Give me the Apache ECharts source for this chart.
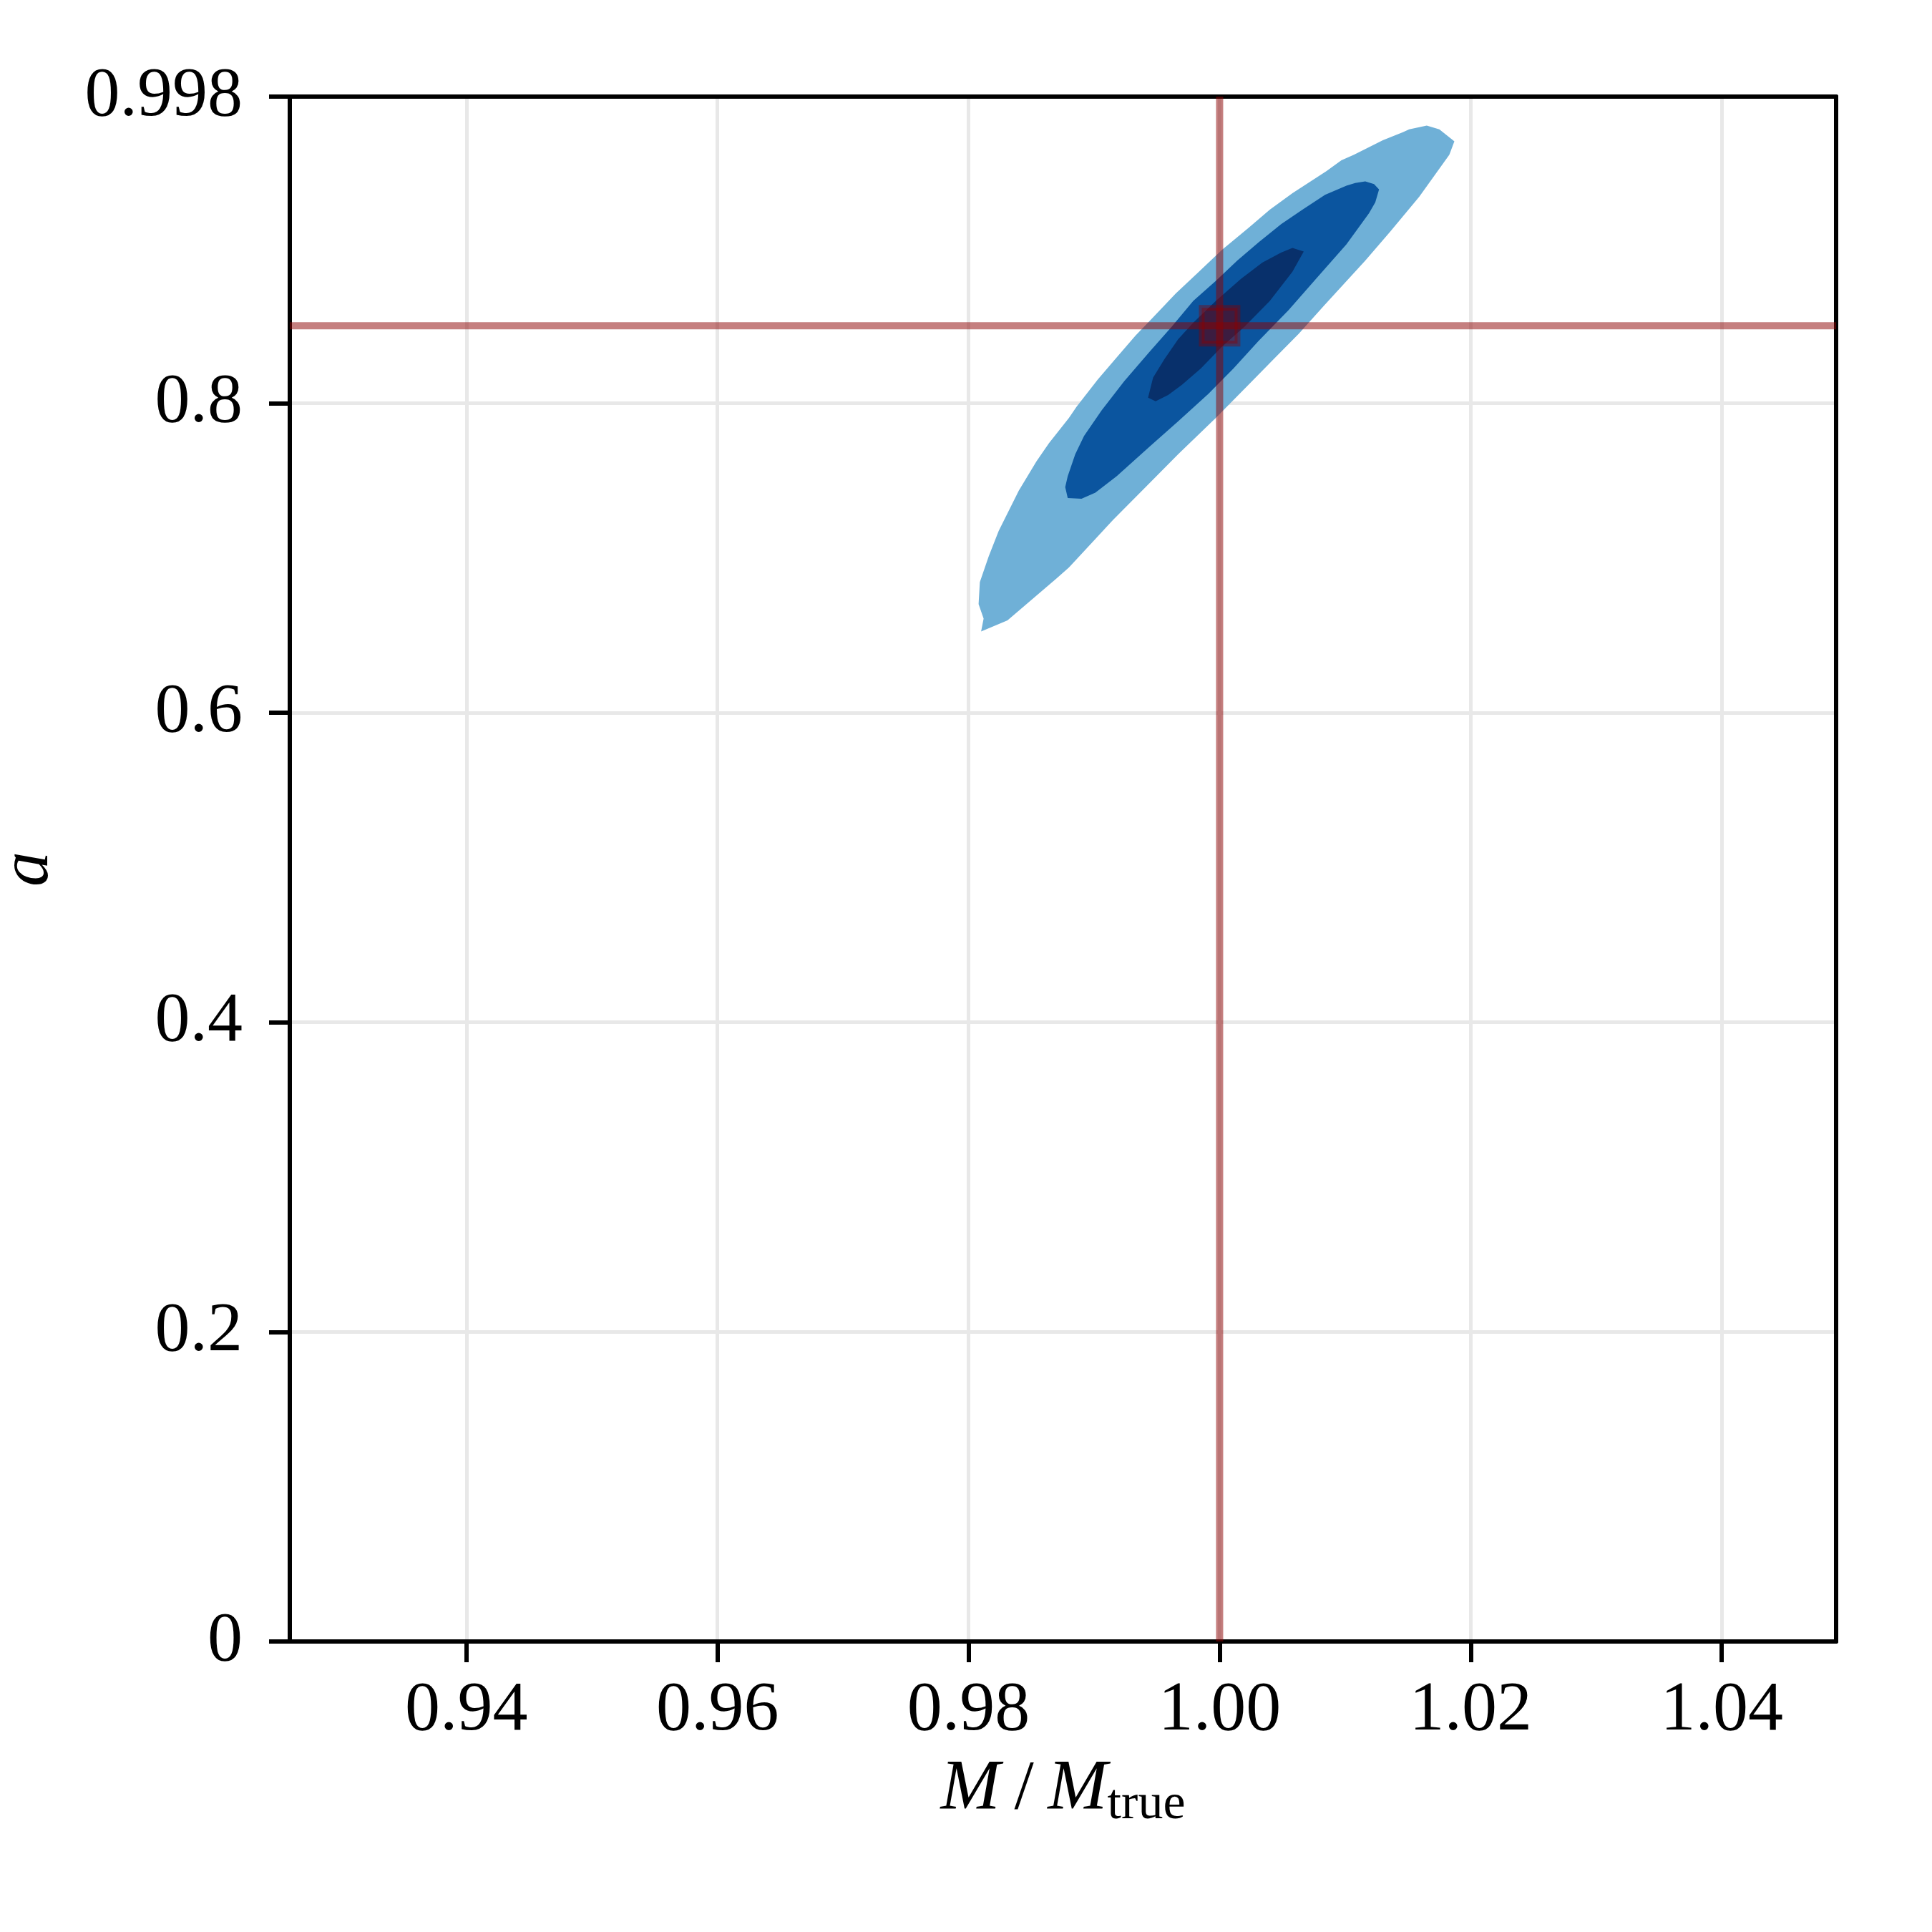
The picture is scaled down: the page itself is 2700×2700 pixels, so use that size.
<!DOCTYPE html>
<html>
<head>
<meta charset="utf-8">
<script src="https://cdn.jsdelivr.net/npm/echarts@6/dist/echarts.min.js"></script>
<style>
  html, body { margin: 0; padding: 0; background: #fff; }
  #chart { width: 2700px; height: 2700px; }
</style>
</head>
<body>
<div id="chart"></div>
<script>
// axis ranges and ticks
const xRange = [0.92593, 1.04911];
const yRange = [0, 0.998];
const xTicks = [0.94, 0.96, 0.98, 1.00, 1.02, 1.04];
const yTicks = [0, 0.2, 0.4, 0.6, 0.8, 0.998];
const yTickLabels = ['0', '0.2', '0.4', '0.6', '0.8', '0.998'];

// true values (cross lines + marker)
const trueM = 1.0;
const trueA = 0.85;

// contour outlines, [M/Mtrue, a]
const contourOuter = [
  [1.0187, 0.9691], [1.0175, 0.9769], [1.0165, 0.9793], [1.0151, 0.9769], [1.0146, 0.9750],
  [1.0130, 0.9698], [1.0107, 0.9604], [1.0097, 0.9569], [1.0085, 0.9498], [1.0058, 0.9356],
  [1.0040, 0.9250], [1.0023, 0.9132], [1.0002, 0.8991], [0.9982, 0.8837], [0.9965, 0.8708],
  [0.9947, 0.8554], [0.9933, 0.8436], [0.9918, 0.8295], [0.9903, 0.8153], [0.9886, 0.7976],
  [0.9880, 0.7905], [0.9864, 0.7740], [0.9854, 0.7622], [0.9840, 0.7434], [0.9824, 0.7174],
  [0.9816, 0.7009], [0.9809, 0.6844], [0.9808, 0.6702], [0.9812, 0.6608], [0.9810, 0.6525],
  [0.9831, 0.6596], [0.9848, 0.6714], [0.9870, 0.6867], [0.9880, 0.6938], [0.9903, 0.7139],
  [0.9915, 0.7245], [0.9944, 0.7481], [0.9967, 0.7670], [0.9997, 0.7905], [1.0023, 0.8118],
  [1.0043, 0.8283], [1.0063, 0.8448], [1.0084, 0.8637], [1.0116, 0.8920], [1.0136, 0.9109],
  [1.0159, 0.9333], [1.0183, 0.9604]
];
const contourMid = [
  [1.0127, 0.9380], [1.0123, 0.9415], [1.0116, 0.9432], [1.0108, 0.9422], [1.0101, 0.9404],
  [1.0084, 0.9345], [1.0066, 0.9250], [1.0049, 0.9156], [1.0031, 0.9038], [1.0014, 0.8920],
  [0.9997, 0.8790], [0.9979, 0.8660], [0.9962, 0.8495], [0.9944, 0.8330], [0.9924, 0.8141],
  [0.9906, 0.7953], [0.9892, 0.7788], [0.9885, 0.7670], [0.9879, 0.7528], [0.9877, 0.7457],
  [0.9879, 0.7387], [0.9890, 0.7382], [0.9901, 0.7422], [0.9918, 0.7528], [0.9944, 0.7717],
  [0.9967, 0.7882], [0.9991, 0.8059], [1.0011, 0.8224], [1.0031, 0.8401], [1.0055, 0.8601],
  [1.0078, 0.8814], [1.0101, 0.9026], [1.0119, 0.9227], [1.0124, 0.9297]
];
const contourInner = [
  [1.0067, 0.8979], [1.0058, 0.9002], [1.0049, 0.8972], [1.0034, 0.8908], [1.0017, 0.8802],
  [0.9997, 0.8660], [0.9979, 0.8519], [0.9967, 0.8413], [0.9956, 0.8283], [0.9947, 0.8165],
  [0.9943, 0.8035], [0.9949, 0.8012], [0.9959, 0.8052], [0.9970, 0.8118], [0.9985, 0.8224],
  [1.0002, 0.8366], [1.0020, 0.8495], [1.0040, 0.8660], [1.0058, 0.8849]
];

const FONT = 'Liberation Serif';
const RED = 'rgba(139,0,0,0.5)';

// one filled contour level, drawn through the grid's own scales
function contourSeries(points, color, z) {
  return {
    type: 'custom',
    coordinateSystem: 'cartesian2d',
    silent: true,
    z: z,
    data: [points[0]],
    renderItem: function (params, api) {
      return {
        type: 'polygon',
        shape: { points: points.map(p => api.coord(p)) },
        style: { fill: color }
      };
    }
  };
}

const chart = echarts.init(document.getElementById('chart'), null, { renderer: 'canvas' });

const tickStyle = { color: '#000', width: 6 };
const gridLine = { show: true, lineStyle: { color: '#e8e8e8', width: 5 } };
// plain frame edges for top / right
const frameAxis = {
  type: 'value',
  axisLine: { show: true, onZero: false, lineStyle: tickStyle },
  axisTick: { show: false },
  axisLabel: { show: false },
  splitLine: { show: false }
};

chart.setOption({
  animation: false,
  backgroundColor: '#fff',
  grid: {
    left: 405, right: 134, top: 135, bottom: 406,
    containLabel: false,
    outerBoundsMode: 'none'
  },
  xAxis: [{
    type: 'value',
    min: xRange[0],
    max: xRange[1],
    name: '{i|M}\u2009/\u2009{i|M}{s|true}',
    nameLocation: 'middle',
    nameGap: 150,
    nameTextStyle: {
      fontFamily: FONT, fontSize: 98, color: '#000',
      rich: {
        i: { fontFamily: FONT, fontSize: 100, fontStyle: 'italic', color: '#000' },
        s: { fontFamily: FONT, fontSize: 70, color: '#000', padding: [44, 0, 0, 0] }
      }
    },
    axisLine: { show: true, onZero: false, lineStyle: tickStyle },
    axisTick: { show: true, length: 29, lineStyle: tickStyle, customValues: xTicks },
    axisLabel: {
      customValues: xTicks,
      formatter: v => v.toFixed(2),
      fontFamily: FONT, fontSize: 98, color: '#000', margin: 48
    },
    splitLine: gridLine
  }, Object.assign({ position: 'top', min: xRange[0], max: xRange[1] }, frameAxis)],
  yAxis: [{
    type: 'value',
    min: yRange[0],
    max: yRange[1],
    name: 'a',
    nameLocation: 'middle',
    nameGap: 316,
    nameTextStyle: { fontFamily: FONT, fontSize: 98, fontStyle: 'italic', color: '#000' },
    axisLine: { show: true, onZero: false, lineStyle: tickStyle },
    axisTick: { show: true, length: 29, lineStyle: tickStyle, customValues: yTicks },
    axisLabel: {
      customValues: yTicks,
      formatter: v => {
        const i = yTicks.indexOf(v);
        return i >= 0 ? yTickLabels[i] : String(v);
      },
      fontFamily: FONT, fontSize: 98, color: '#000', margin: 66
    },
    splitLine: gridLine
  }, Object.assign({ position: 'right', min: yRange[0], max: yRange[1] }, frameAxis)],
  series: [
    contourSeries(contourOuter, '#6fb0d7', 2),
    contourSeries(contourMid, '#0b559f', 3),
    contourSeries(contourInner, '#08306b', 4),
    {
      type: 'line',
      data: [[trueM, yRange[0]], [trueM, yRange[1]]],
      symbol: 'none',
      silent: true,
      z: 5,
      lineStyle: { color: RED, width: 10 }
    },
    {
      type: 'line',
      data: [[xRange[0], trueA], [xRange[1], trueA]],
      symbol: 'none',
      silent: true,
      z: 5,
      lineStyle: { color: RED, width: 10 }
    },
    {
      type: 'scatter',
      data: [[trueM, trueA]],
      symbol: 'rect',
      symbolSize: 50,
      silent: true,
      z: 6,
      itemStyle: { color: RED, borderColor: RED, borderWidth: 8 }
    }
  ]
});
</script>
</body>
</html>
